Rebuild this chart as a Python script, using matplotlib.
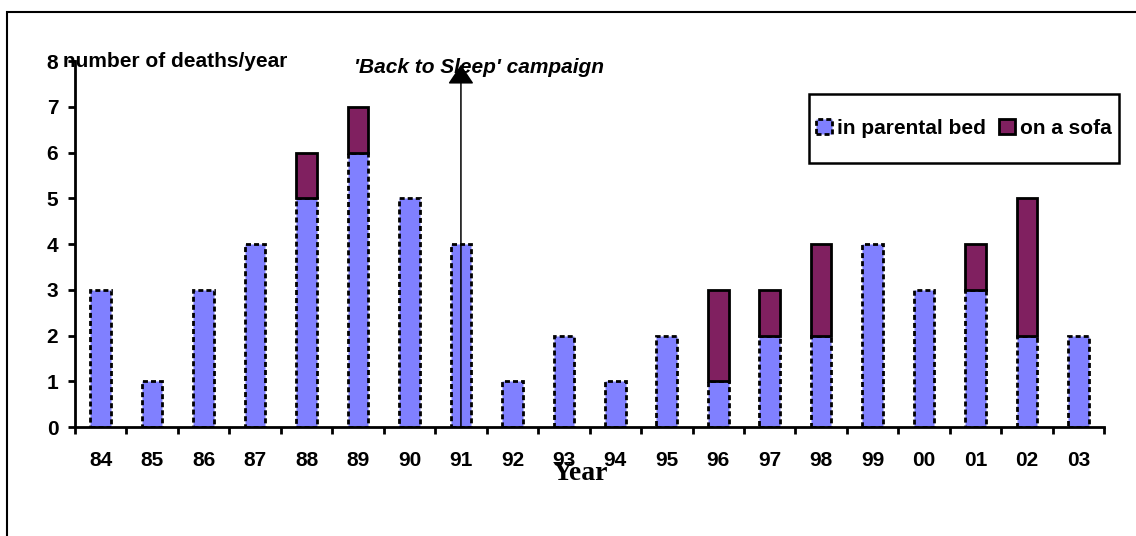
import numpy as np
import matplotlib
matplotlib.use("Agg")
import matplotlib.pyplot as plt
from matplotlib.patches import Rectangle

years = ["84", "85", "86", "87", "88", "89", "90", "91", "92", "93",
         "94", "95", "96", "97", "98", "99", "00", "01", "02", "03"]
parental_bed = [3, 1, 3, 4, 5, 6, 5, 4, 1, 2, 1, 2, 1, 2, 2, 4, 3, 3, 2, 2]
sofa = [0, 0, 0, 0, 1, 1, 0, 0, 0, 0, 0, 0, 2, 1, 2, 0, 0, 1, 3, 0]
campaign_year = "91"

blue = "#8080FF"
purple = "#802060"

plt.rcParams["font.family"] = ["Liberation Sans", "DejaVu Sans"]
plt.rcParams["font.weight"] = "bold"
fs = 15

W, H = 1136, 536
fig = plt.figure(figsize=(W / 100, H / 100), dpi=100)
ax = fig.add_axes([0.066, 0.203, 0.906, 0.683])

x = np.arange(len(years))
w = 0.4
ax.bar(x, parental_bed, width=w, color=blue, edgecolor="black",
       linewidth=2, linestyle=(0, (1.8, 1.1)), label="in parental bed")
sofa_vals = np.array(sofa, dtype=float)
has_sofa = sofa_vals > 0
ax.bar(x[has_sofa], sofa_vals[has_sofa], width=w,
       bottom=np.array(parental_bed)[has_sofa], color=purple,
       edgecolor="black", linewidth=2, label="on a sofa")

ax.set_xlim(-0.5, len(years) - 0.5)
ax.set_ylim(0, 8)
ax.set_yticks(range(0, 9))
ax.set_xticks(x)
ax.set_xticklabels(years)
ax.set_xticks(np.arange(-0.5, len(years)), minor=True)
ax.tick_params(axis="x", which="major", length=0, pad=17, labelsize=fs)
ax.tick_params(axis="x", which="minor", length=5, width=2, direction="out")
ax.tick_params(axis="y", length=5, width=2, labelsize=fs, pad=7)
for s in ["top", "right"]:
    ax.spines[s].set_visible(False)
for s in ["left", "bottom"]:
    ax.spines[s].set_linewidth(2)

# y axis title sits right at the top tick, crossing the axis line
ax.text(-0.735, 8, "number of deaths/year", fontsize=fs, fontweight="bold",
        va="center", ha="left")

xi = years.index(campaign_year)
ax.annotate("", xy=(xi, 7.92), xytext=(xi, 0),
            arrowprops=dict(arrowstyle="-|>,head_length=0.4,head_width=0.27",
                            color="black", lw=1.1, mutation_scale=30,
                            shrinkA=0, shrinkB=0))
ax.text(xi - 2.07, 7.85, "'Back to Sleep' campaign", fontsize=fs,
        fontweight="bold", style="italic", va="center", ha="left")

fig.text(580 / W, 1 - 474 / H, "Year", family="Liberation Serif",
         fontsize=20, fontweight="bold", ha="center", va="center")

# legend box drawn by hand, entries centred inside it
bx0, bx1, by0, by1 = 809, 1119, 94, 163
ax.add_patch(Rectangle((bx0 / W, 1 - by1 / H), (bx1 - bx0) / W,
                       (by1 - by0) / H, transform=fig.transFigure,
                       facecolor="white", edgecolor="black",
                       linewidth=1.8, zorder=5, clip_on=False))
leg = ax.legend(loc="center", bbox_to_anchor=((bx0 + bx1) / 2 / W,
                                              1 - (by0 + by1) / 2 / H),
                bbox_transform=fig.transFigure, ncol=2, frameon=False,
                fontsize=fs, handlelength=0.75, handleheight=0.75,
                handletextpad=0.25, columnspacing=0.65, borderpad=0)
leg.set_zorder(6)

fig.patches.append(Rectangle((7 / W, -0.1), 1.2, 1.1 - 12 / H,
                             transform=fig.transFigure, fill=False,
                             edgecolor="black", linewidth=1.5))

fig.savefig("out.png", dpi=100)
